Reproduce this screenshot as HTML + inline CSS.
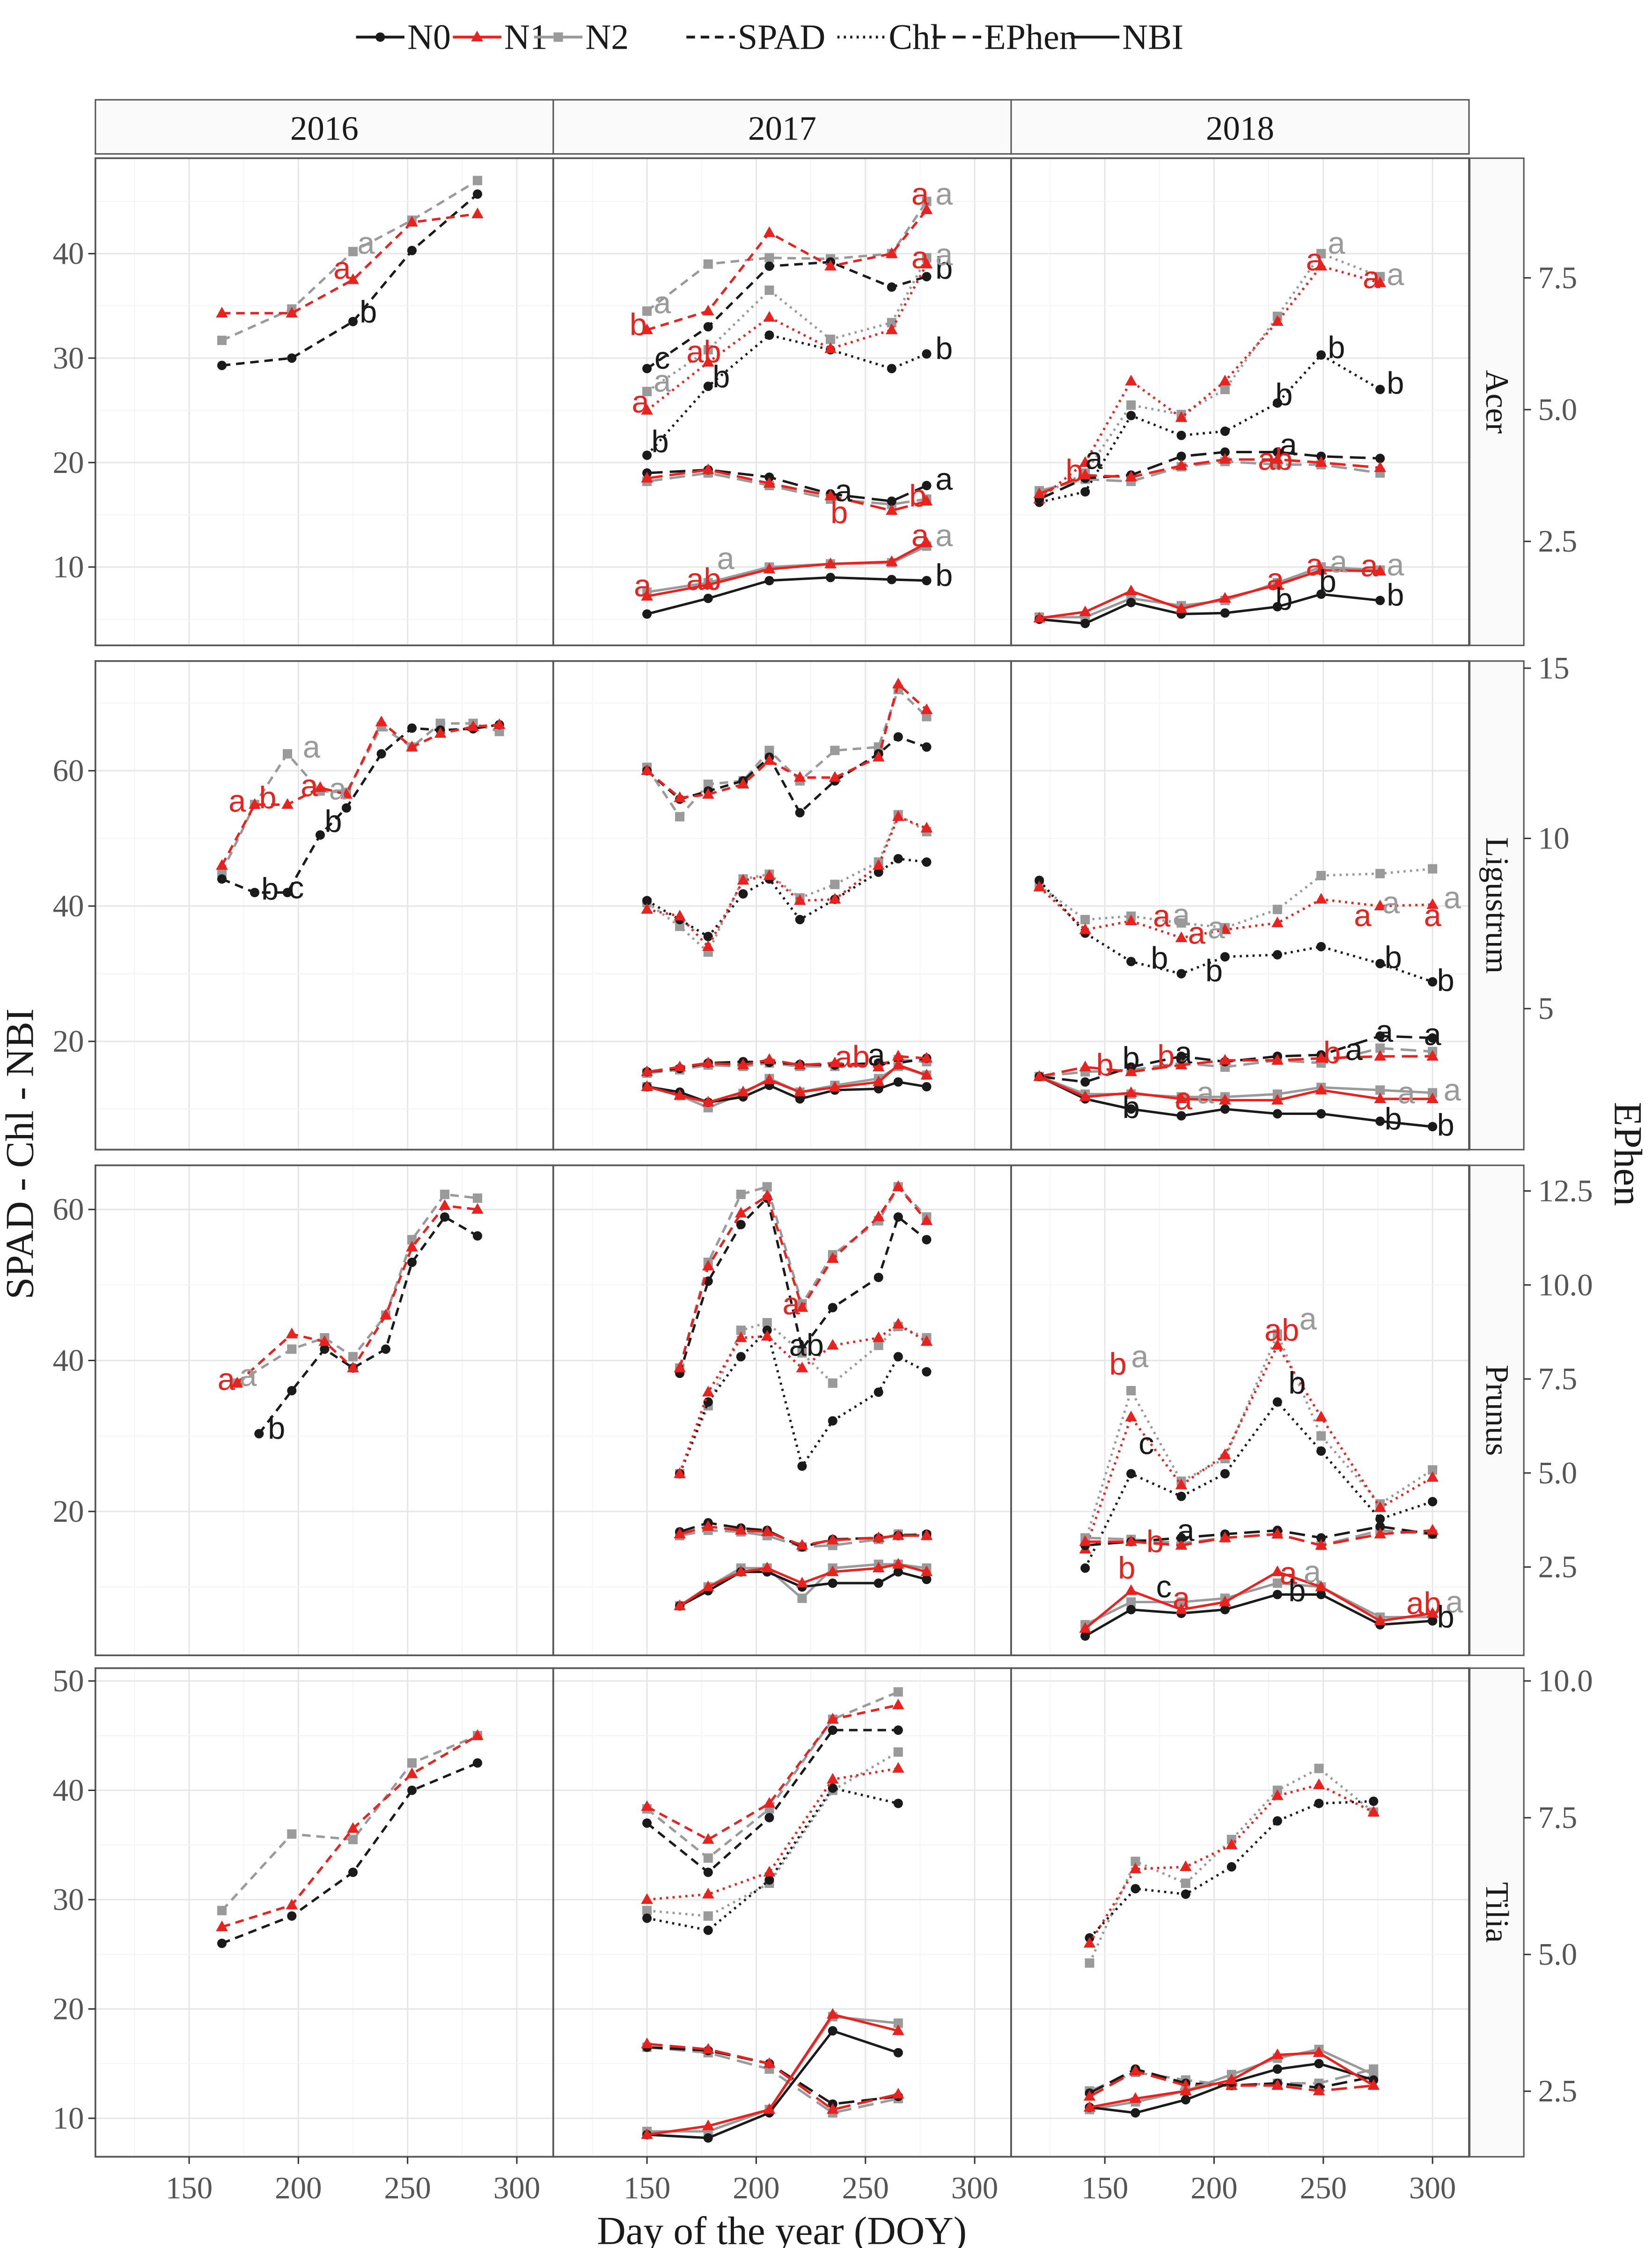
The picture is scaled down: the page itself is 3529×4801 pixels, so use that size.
<!DOCTYPE html>
<html><head><meta charset="utf-8"><style>
html,body{margin:0;padding:0;background:#fff;}
svg{display:block;font-family:"Liberation Serif",serif;}
</style></head><body>
<svg id="chart" xmlns="http://www.w3.org/2000/svg" width="3529" height="4801" viewBox="0 0 1160 1578"></svg>
<script>
// ---------- DATA (values on left SPAD-Chl-NBI scale) ----------
const species=["Acer","Ligustrum","Prunus","Tilia"];
const years=["2016","2017","2018"];
const xTicks=[150,200,250,300];
const leftTicksAcer=[10,20,30,40];
const leftTicksLig=[20,40,60];
const leftTicksPru=[20,40,60];
const leftTicksTil=[10,20,30,40,50];
const rightTicksAcer=[2.5,5.0,7.5];
const rightTicksLig=[5,10,15];
const rightTicksPru=[2.5,5.0,7.5,10.0,12.5];
const rightTicksTil=[2.5,5.0,7.5,10.0];

const doyAcer16=[165,197,225,252,282];
const acer16_spad_n0=[29.3,30,33.5,40.3,45.7];
const acer16_spad_n1=[34.3,34.3,37.5,43,43.8];
const acer16_spad_n2=[31.7,34.7,40.2,43.2,47];
const doyAcer17=[150,178,206,234,262,278];
const acer17_spad_n0=[29,33,38.8,39.2,36.8,37.8];
const acer17_spad_n1=[32.7,34.5,42,38.8,40,44.2];
const acer17_spad_n2=[34.5,39,39.6,39.5,40,45];
const acer17_chl_n0=[20.7,27.3,32.2,30.8,29,30.4];
const acer17_chl_n1=[25,29.6,33.9,30.9,32.7,39];
const acer17_chl_n2=[26.8,30.8,36.5,31.8,33.4,39.6];
const acer17_eph_n0=[19,19.3,18.6,17,16.3,17.8];
const acer17_eph_n1=[18.5,19.3,18,16.8,15.4,16.3];
const acer17_eph_n2=[18.2,19,17.8,16.5,16,16.5];
const acer17_nbi_n0=[5.5,7,8.7,9,8.8,8.7];
const acer17_nbi_n1=[7.2,8.3,9.8,10.3,10.5,12.3];
const acer17_nbi_n2=[7.6,8.5,10,10.3,10.4,12];
const doyAcer18=[120,141,162,185,205,229,249,276];
const acer18_chl_n0=[16.2,17.2,24.5,22.6,23,25.7,30.3,27];
const acer18_chl_n1=[16.5,20,27.8,24.3,27.8,33.5,38.8,37.2];
const acer18_chl_n2=[16.8,19,25.5,24.6,27,34,40,37.8];
const acer18_eph_n0=[16.5,18.5,18.8,20.6,21,21,20.6,20.4];
const acer18_eph_n1=[17,18.8,18.6,19.7,20.3,20.3,20,19.5];
const acer18_eph_n2=[17.3,18.4,18.2,19.6,20.1,19.8,19.8,19];
const acer18_nbi_n0=[5,4.6,6.6,5.5,5.6,6.2,7.4,6.8];
const acer18_nbi_n1=[5.1,5.7,7.7,6,7,8.3,9.7,9.6];
const acer18_nbi_n2=[5.2,5.2,7,6.3,6.8,8.5,10,9.7];

const doyLig16=[165,180,195,210,222,238,252,265,280,292];
const lig16_spad_n0=[44,42,42,50.5,54.5,62.5,66.3,66,66.2,66.8];
const lig16_spad_n1=[46,55,55,57.5,56.5,67.2,63.5,65.5,66.5,66.8];
const lig16_spad_n2=[45,55,62.5,57,56.8,66.5,63.5,67,67,65.8];
const doyLig17=[150,165,178,194,206,220,236,256,265,278];
const lig17_spad_n0=[60,55.8,57,58.5,62,53.8,58.5,62.5,65,63.5];
const lig17_spad_n1=[60,56,56.5,58,61.5,59,59,62,72.8,69];
const lig17_spad_n2=[60.5,53.2,58,58.5,63,58.5,63,63.5,72,68];
const lig17_chl_n0=[40.8,38,35.5,41.8,44,38,41,45,47,46.5];
const lig17_chl_n1=[39.5,38.5,34,43.8,44.5,40.8,41,46,53.2,51.5];
const lig17_chl_n2=[40.5,37,33.2,44,44.7,41.2,43.2,46.5,53.5,51];
const lig17_eph_n0=[15.5,16,16.8,17,16.9,16.6,16.5,16.8,16.8,17.5];
const lig17_eph_n1=[15.5,16.2,16.8,16.5,17.3,16.5,16.8,16.2,17.8,17.5];
const lig17_eph_n2=[15.3,15.8,16.5,16.3,16.8,16.3,16.3,16.6,17.3,17];
const lig17_nbi_n0=[13.3,12.5,11,11.8,13.5,11.5,12.8,13,14,13.3];
const lig17_nbi_n1=[13.3,12,11,12.5,14.3,12.5,13.2,14,16.5,15];
const lig17_nbi_n2=[13.3,12,10.2,12.3,14.5,12.5,13.5,14.5,16.3,15];
const doyLig18=[120,141,162,185,205,229,249,276,300];
const lig18_chl_n0=[43.8,36,31.8,30,32.5,32.8,34,31.5,28.8];
const lig18_chl_n1=[42.8,36.5,37.8,35.3,36.5,37.5,41,40,40.2];
const lig18_chl_n2=[43,38,38.5,37.5,36.8,39.5,44.5,44.8,45.5];
const lig18_eph_n0=[14.8,14,16.2,17.8,17,17.8,18,20.8,20.5];
const lig18_eph_n1=[14.8,16.2,15.5,16.5,17.2,17.2,17.5,17.8,17.8];
const lig18_eph_n2=[14.8,15.5,15.8,16.8,16.2,17.2,16.8,19,18.5];
const lig18_nbi_n0=[14.8,11.5,10,9,10,9.3,9.3,8.2,7.4];
const lig18_nbi_n1=[14.8,11.8,12.4,11.5,11.3,11.3,12.8,11.5,11.5];
const lig18_nbi_n2=[14.8,12.2,12.2,11.8,11.8,12.2,13.2,12.8,12.4];

const doyPru16a=[182,197,212,225,240,252,267,282];
const doyPru16b=[172,197,212,225,240,252,267,282];
const pru16_spad_n0=[30.3,36,41.5,39,41.5,53,59,56.5];
const pru16_spad_n1=[37,43.5,42.5,39,46,55,60.5,60];
const pru16_spad_n2=[37,41.5,43,40.5,46,56,62,61.5];
const doyPru17=[165,178,193,205,221,235,256,265,278];
const pru17_spad_n0=[38.3,50.5,58,61.5,41.5,47,51,59,56];
const pru17_spad_n1=[39,52.5,59.5,61.8,47,53.5,59,63,58.5];
const pru17_spad_n2=[39,53,62,63,47.5,54,58.5,63,59];
const pru17_chl_n0=[25,34.5,40.5,44,26,32,35.8,40.5,38.5];
const pru17_chl_n1=[25,35.8,43,43.2,39,42,43,44.8,42.5];
const pru17_chl_n2=[25,34,44,45,41,37,42,44.5,43];
const pru17_eph_n0=[17.3,18.5,17.8,17.5,15.3,16.3,16.5,16.8,17];
const pru17_eph_n1=[17,18,17.5,17.3,15.5,16.2,16.5,16.8,16.8];
const pru17_eph_n2=[16.8,17.5,17.3,16.8,15.3,15.5,16.3,17,16.8];
const pru17_nbi_n0=[7.5,9.5,12,12,10,10.5,10.5,12,11];
const pru17_nbi_n1=[7.5,10,12,12.5,10.5,12,12.5,13,12];
const pru17_nbi_n2=[7.5,10,12.5,12.5,8.5,12.5,13,13,12.5];
const doyPru18=[141,162,185,205,229,249,276,300];
const pru18_chl_n0=[12.5,25,22,25,34.5,28,19,21.3];
const pru18_chl_n1=[15,32.5,23.5,27.5,42,32.5,20.5,24.5];
const pru18_chl_n2=[16,36,24,27,43.5,30,21,25.5];
const pru18_eph_n0=[15.5,16,16.5,17,17.5,16.5,18,17];
const pru18_eph_n1=[16,16,15.5,16.5,17,15.5,17,17.5];
const pru18_eph_n2=[16.5,16.3,15.8,16.5,17,15.5,17.5,17];
const pru18_nbi_n0=[3.5,7,6.5,7,9,9,5,5.5];
const pru18_nbi_n1=[4.5,9.5,7,8,12,10,5.5,6.5];
const pru18_nbi_n2=[5,8,8,8.5,10.5,10,6,6];

const doyTil16=[165,197,225,252,282];
const til16_spad_n0=[26,28.5,32.5,40,42.5];
const til16_spad_n1=[27.5,29.5,36.5,41.5,45];
const til16_spad_n2=[29,36,35.5,42.5,45];
const doyTil17=[150,178,206,235,265];
const til17_spad_n0=[37,32.5,37.5,45.5,45.5];
const til17_spad_n1=[38.5,35.5,38.8,46.5,47.8];
const til17_spad_n2=[38.3,33.8,38.3,46.5,49];
const til17_chl_n0=[28.3,27.2,31.8,40.2,38.8];
const til17_chl_n1=[30,30.5,32.5,41,42];
const til17_chl_n2=[29,28.5,31.5,40,43.5];
const til17_eph_n0=[16.5,16.2,15,11.3,12];
const til17_eph_n1=[16.8,16.3,15,10.8,12.2];
const til17_eph_n2=[16.5,16,14.5,10.5,11.8];
const til17_nbi_n0=[8.5,8.2,10.5,18,16];
const til17_nbi_n1=[8.5,9.3,10.8,19.5,18];
const til17_nbi_n2=[8.8,8.8,10.8,19.3,18.7];
const doyTil18=[143,164,187,208,229,248,273];
const til18_chl_n0=[26.5,31,30.5,33,37.2,38.8,39];
const til18_chl_n1=[26,32.8,33,35,39.5,40.5,38];
const til18_chl_n2=[24.2,33.5,31.5,35.5,40,42,38];
const til18_eph_n0=[12.3,14.5,13.2,13,13.2,12.8,13.8];
const til18_eph_n1=[12,14.3,13,13,13,12.5,13];
const til18_eph_n2=[12.5,14.2,13.5,13,13.2,13.2,14.5];
const til18_nbi_n0=[11,10.5,11.7,13.3,14.5,15,13.5];
const til18_nbi_n1=[11,11.8,12.5,13.5,15.8,16,13];
const til18_nbi_n2=[10.8,11.5,12.5,14,15.5,16.3,14];

const seriesList=[
[0,0,"spad",2,doyAcer16,acer16_spad_n2],[0,0,"spad",0,doyAcer16,acer16_spad_n0],[0,0,"spad",1,doyAcer16,acer16_spad_n1],
[0,1,"spad",2,doyAcer17,acer17_spad_n2],[0,1,"spad",0,doyAcer17,acer17_spad_n0],[0,1,"spad",1,doyAcer17,acer17_spad_n1],
[0,1,"chl",2,doyAcer17,acer17_chl_n2],[0,1,"chl",0,doyAcer17,acer17_chl_n0],[0,1,"chl",1,doyAcer17,acer17_chl_n1],
[0,1,"eph",2,doyAcer17,acer17_eph_n2],[0,1,"eph",0,doyAcer17,acer17_eph_n0],[0,1,"eph",1,doyAcer17,acer17_eph_n1],
[0,1,"nbi",2,doyAcer17,acer17_nbi_n2],[0,1,"nbi",0,doyAcer17,acer17_nbi_n0],[0,1,"nbi",1,doyAcer17,acer17_nbi_n1],
[0,2,"chl",2,doyAcer18,acer18_chl_n2],[0,2,"chl",0,doyAcer18,acer18_chl_n0],[0,2,"chl",1,doyAcer18,acer18_chl_n1],
[0,2,"eph",2,doyAcer18,acer18_eph_n2],[0,2,"eph",0,doyAcer18,acer18_eph_n0],[0,2,"eph",1,doyAcer18,acer18_eph_n1],
[0,2,"nbi",2,doyAcer18,acer18_nbi_n2],[0,2,"nbi",0,doyAcer18,acer18_nbi_n0],[0,2,"nbi",1,doyAcer18,acer18_nbi_n1],
[1,0,"spad",2,doyLig16,lig16_spad_n2],[1,0,"spad",0,doyLig16,lig16_spad_n0],[1,0,"spad",1,doyLig16,lig16_spad_n1],
[1,1,"spad",2,doyLig17,lig17_spad_n2],[1,1,"spad",0,doyLig17,lig17_spad_n0],[1,1,"spad",1,doyLig17,lig17_spad_n1],
[1,1,"chl",2,doyLig17,lig17_chl_n2],[1,1,"chl",0,doyLig17,lig17_chl_n0],[1,1,"chl",1,doyLig17,lig17_chl_n1],
[1,1,"eph",2,doyLig17,lig17_eph_n2],[1,1,"eph",0,doyLig17,lig17_eph_n0],[1,1,"eph",1,doyLig17,lig17_eph_n1],
[1,1,"nbi",2,doyLig17,lig17_nbi_n2],[1,1,"nbi",0,doyLig17,lig17_nbi_n0],[1,1,"nbi",1,doyLig17,lig17_nbi_n1],
[1,2,"chl",2,doyLig18,lig18_chl_n2],[1,2,"chl",0,doyLig18,lig18_chl_n0],[1,2,"chl",1,doyLig18,lig18_chl_n1],
[1,2,"eph",2,doyLig18,lig18_eph_n2],[1,2,"eph",0,doyLig18,lig18_eph_n0],[1,2,"eph",1,doyLig18,lig18_eph_n1],
[1,2,"nbi",2,doyLig18,lig18_nbi_n2],[1,2,"nbi",0,doyLig18,lig18_nbi_n0],[1,2,"nbi",1,doyLig18,lig18_nbi_n1],
[2,0,"spad",2,doyPru16b,pru16_spad_n2],[2,0,"spad",0,doyPru16a,pru16_spad_n0],[2,0,"spad",1,doyPru16b,pru16_spad_n1],
[2,1,"spad",2,doyPru17,pru17_spad_n2],[2,1,"spad",0,doyPru17,pru17_spad_n0],[2,1,"spad",1,doyPru17,pru17_spad_n1],
[2,1,"chl",2,doyPru17,pru17_chl_n2],[2,1,"chl",0,doyPru17,pru17_chl_n0],[2,1,"chl",1,doyPru17,pru17_chl_n1],
[2,1,"eph",2,doyPru17,pru17_eph_n2],[2,1,"eph",0,doyPru17,pru17_eph_n0],[2,1,"eph",1,doyPru17,pru17_eph_n1],
[2,1,"nbi",2,doyPru17,pru17_nbi_n2],[2,1,"nbi",0,doyPru17,pru17_nbi_n0],[2,1,"nbi",1,doyPru17,pru17_nbi_n1],
[2,2,"chl",2,doyPru18,pru18_chl_n2],[2,2,"chl",0,doyPru18,pru18_chl_n0],[2,2,"chl",1,doyPru18,pru18_chl_n1],
[2,2,"eph",2,doyPru18,pru18_eph_n2],[2,2,"eph",0,doyPru18,pru18_eph_n0],[2,2,"eph",1,doyPru18,pru18_eph_n1],
[2,2,"nbi",2,doyPru18,pru18_nbi_n2],[2,2,"nbi",0,doyPru18,pru18_nbi_n0],[2,2,"nbi",1,doyPru18,pru18_nbi_n1],
[3,0,"spad",2,doyTil16,til16_spad_n2],[3,0,"spad",0,doyTil16,til16_spad_n0],[3,0,"spad",1,doyTil16,til16_spad_n1],
[3,1,"spad",2,doyTil17,til17_spad_n2],[3,1,"spad",0,doyTil17,til17_spad_n0],[3,1,"spad",1,doyTil17,til17_spad_n1],
[3,1,"chl",2,doyTil17,til17_chl_n2],[3,1,"chl",0,doyTil17,til17_chl_n0],[3,1,"chl",1,doyTil17,til17_chl_n1],
[3,1,"eph",2,doyTil17,til17_eph_n2],[3,1,"eph",0,doyTil17,til17_eph_n0],[3,1,"eph",1,doyTil17,til17_eph_n1],
[3,1,"nbi",2,doyTil17,til17_nbi_n2],[3,1,"nbi",0,doyTil17,til17_nbi_n0],[3,1,"nbi",1,doyTil17,til17_nbi_n1],
[3,2,"chl",2,doyTil18,til18_chl_n2],[3,2,"chl",0,doyTil18,til18_chl_n0],[3,2,"chl",1,doyTil18,til18_chl_n1],
[3,2,"eph",2,doyTil18,til18_eph_n2],[3,2,"eph",0,doyTil18,til18_eph_n0],[3,2,"eph",1,doyTil18,til18_eph_n1],
[3,2,"nbi",2,doyTil18,til18_nbi_n2],[3,2,"nbi",0,doyTil18,til18_nbi_n0],[3,2,"nbi",1,doyTil18,til18_nbi_n1]
];

const letters=[
[0,0,220,38.6,"a",1],[0,0,231,41,"a",2],[0,0,232,34.4,"b",0],
[0,1,146,33.2,"b",1],[0,1,157,35.3,"a",2],[0,1,157,30,"c",0],[0,1,156,22,"b",0],[0,1,147,25.8,"a",1],[0,1,157,27.8,"a",2],
[0,1,176,30.6,"ab",1],[0,1,184,28.2,"b",0],[0,1,148,8.2,"a",1],[0,1,176,8.8,"ab",1],[0,1,186,10.8,"a",2],
[0,1,275,45.7,"a",1],[0,1,286,45.7,"a",2],[0,1,286,38.6,"b",0],[0,1,286,30.9,"b",0],[0,1,275,39.6,"a",1],[0,1,286,39.9,"a",2],
[0,1,240,17.3,"a",0],[0,1,238,15.2,"b",1],[0,1,286,18.4,"a",0],[0,1,274,16.8,"b",1],[0,1,275,13,"a",1],[0,1,286,13,"a",2],[0,1,286,9.2,"b",0],
[0,2,246,39.4,"a",1],[0,2,256,41,"a",2],[0,2,256,31,"b",0],[0,2,272,37.7,"a",1],[0,2,283,38,"a",2],[0,2,283,27.6,"b",0],[0,2,232,26.5,"b",0],
[0,2,234,21.7,"a",0],[0,2,228,20.3,"ab",1],[0,2,145,20.4,"a",0],[0,2,136,19.2,"b",1],
[0,2,228,8.8,"a",1],[0,2,246,10.2,"a",1],[0,2,257,10.5,"a",2],[0,2,271,10.1,"a",1],[0,2,283,10.2,"a",2],[0,2,232,6.9,"b",0],[0,2,252,8.6,"b",0],[0,2,283,7.3,"b",0],
[1,0,172,55.5,"a",1],[1,0,186,56,"b",1],[1,0,206,63.5,"a",2],[1,0,205,57.8,"a",1],[1,0,218,57.3,"a",2],[1,0,187,42.5,"b",0],[1,0,199,42.7,"c",0],[1,0,216,52.5,"b",0],
[1,1,244,17.7,"ab",1],[1,1,255,18,"a",0],
[1,2,176,38.5,"a",1],[1,2,185,38.7,"a",2],[1,2,175,32.3,"b",0],[1,2,192,36,"a",1],[1,2,201,36.8,"a",2],[1,2,200,30.4,"b",0],
[1,2,268,38.6,"a",1],[1,2,281,40.5,"a",2],[1,2,300,38.6,"a",1],[1,2,309,41.2,"a",2],[1,2,282,32.4,"b",0],[1,2,306,29,"b",0],
[1,2,150,16.5,"b",1],[1,2,162,17.5,"b",0],[1,2,186,18.3,"a",0],[1,2,178,17.8,"b",1],[1,2,254,18.3,"b",1],[1,2,264,18.8,"a",0],[1,2,278,21.5,"a",0],[1,2,300,21,"a",0],
[1,2,162,10.2,"b",0],[1,2,186,11.5,"a",1],[1,2,196,12.4,"a",2],[1,2,282,8.5,"b",0],[1,2,306,7.6,"b",0],[1,2,288,12.4,"a",2],[1,2,309,12.8,"a",2],
[2,0,167,37.5,"a",1],[2,0,177,38,"a",2],[2,0,190,31,"b",0],
[2,1,216,47.5,"a",1],[2,1,223,42,"ab",0],
[2,2,156,39.5,"b",1],[2,2,166,40.5,"a",2],[2,2,169,29,"c",0],[2,2,231,44,"ab",1],[2,2,243,45.5,"a",2],[2,2,238,37,"b",0],
[2,2,187,17.5,"a",0],[2,2,173,16,"b",1],[2,2,160,12.5,"b",1],[2,2,177,10,"c",0],[2,2,185,8.5,"a",1],[2,2,234,11.8,"a",1],[2,2,245,12,"a",2],[2,2,238,9.5,"b",0],[2,2,296,7.8,"ab",1],[2,2,310,8,"a",2],[2,2,306,6,"b",0]
];

// ---------- LAYOUT ----------
const NS="http://www.w3.org/2000/svg";
const svg=document.getElementById("chart");
const colX=[67,388.5,710];
const panelW=321.5;
const rowY=[[111,453],[464,807],[818,1162],[1171,1514]];
const leftMap=[{v0:10,y0:398,k:7.333},{v0:20,y0:731,k:4.75},{v0:20,y0:1061,k:5.3},{v0:10,y0:1487,k:7.675}];
const rightMap=[{v0:2.5,y0:380,k:37},{v0:5,y0:708,k:23.9},{v0:2.5,y0:1100,k:26.4},{v0:2.5,y0:1468,k:38.4}];
const leftTicks=[leftTicksAcer,leftTicksLig,leftTicksPru,leftTicksTil];
const rightTicks=[rightTicksAcer,rightTicksLig,rightTicksPru,rightTicksTil];
const colors=["#1a1a1a","#e8231f","#9a9a9a"];
const dashes={spad:"6,4",chl:"1.5,3",eph:"11,5",nbi:""};
function xs(c,d){return colX[c]+65.8+(d-150)*1.534;}
function ys(r,v){const m=leftMap[r];return m.y0-(v-m.v0)*m.k;}
function yr(r,v){const m=rightMap[r];return m.y0-(v-m.v0)*m.k;}
function el(tag,attrs,parent){const e=document.createElementNS(NS,tag);for(const k in attrs)e.setAttribute(k,attrs[k]);(parent||svg).appendChild(e);return e;}
function txt(s,attrs,parent){const e=el("text",attrs,parent);e.textContent=s;return e;}

// panels + grid
for(let r=0;r<4;r++){
  for(let c=0;c<3;c++){
    const x0=colX[c],y0=rowY[r][0],y1=rowY[r][1];
    const g=el("g",{});
    
    
    el("rect",{x:x0,y:y0,width:panelW,height:y1-y0,fill:"#fff"},g);
    // minor x grid
    for(let d=125;d<=325;d+=25){const x=xs(c,d);if(x>x0&&x<x0+panelW){el("line",{x1:x,x2:x,y1:y0,y2:y1,stroke:d%50===0?"#e6e6e6":"#f3f3f3","stroke-width":d%50===0?1:0.6},g);}}
    // y grid
    const lt=leftTicks[r];const step=lt[1]-lt[0];
    for(let v=lt[0]-step*2;v<=lt[lt.length-1]+step*2;v+=step/2){const y=ys(r,v);if(y>y0&&y<y1){const maj=Math.abs(((v-lt[0])/step)%1)<1e-6;el("line",{x1:x0,x2:x0+panelW,y1:y,y2:y,stroke:maj?"#e6e6e6":"#f3f3f3","stroke-width":maj?1:0.6},g);}}
    el("rect",{x:x0,y:y0,width:panelW,height:y1-y0,fill:"none",stroke:"#555","stroke-width":1.2},g);
  }
  // right strip
  const sg=el("g",{});
  
  
  el("rect",{x:1032,y:rowY[r][0],width:38,height:rowY[r][1]-rowY[r][0],fill:"#fafafa",stroke:"#555","stroke-width":1},sg);
  const cy=(rowY[r][0]+rowY[r][1])/2;
  txt(species[r],{x:1051,y:cy,"font-size":23,"text-anchor":"middle","dominant-baseline":"central",transform:"rotate(90 1051 "+cy+")",fill:"#1a1a1a"},sg);
  // left ticks
  for(const v of leftTicks[r]){const y=ys(r,v);
    el("line",{x1:62,x2:67,y1:y,y2:y,stroke:"#333","stroke-width":1});
    const t=txt(String(v),{x:59,y:y,"font-size":22,"text-anchor":"end","dominant-baseline":"central",fill:"#555"});
    
    
  }
  // right ticks
  for(const v of rightTicks[r]){const y=yr(r,v);
    el("line",{x1:1070,x2:1075,y1:y,y2:y,stroke:"#333","stroke-width":1});
    const lab=(r===1)?String(v):v.toFixed(1);
    const t=txt(lab,{x:1080,y:y,"font-size":22,"text-anchor":"start","dominant-baseline":"central",fill:"#555"});
    
    
  }
}
// top strips
for(let c=0;c<3;c++){
  const g=el("g",{});
  
  
  el("rect",{x:colX[c],y:70,width:panelW,height:38,fill:"#fafafa",stroke:"#555","stroke-width":1},g);
  txt(years[c],{x:colX[c]+panelW/2,y:90,"font-size":24,"text-anchor":"middle","dominant-baseline":"central",fill:"#1a1a1a"},g);
  for(const d of xTicks){const x=xs(c,d);
    el("line",{x1:x,x2:x,y1:1514,y2:1519,stroke:"#333","stroke-width":1});
    const t=txt(String(d),{x:x,y:1536,"font-size":22,"text-anchor":"middle","dominant-baseline":"central",fill:"#555"});
    
    
  }
}
// axis titles
const xt=txt("Day of the year (DOY)",{x:549,y:1566,"font-size":28,"text-anchor":"middle","dominant-baseline":"central",fill:"#1a1a1a"});


const yt=txt("SPAD - Chl - NBI",{x:14,y:810,"font-size":28,"text-anchor":"middle","dominant-baseline":"central",transform:"rotate(-90 14 810)",fill:"#1a1a1a"});


const y2t=txt("EPhen",{x:1143,y:810,"font-size":28,"text-anchor":"middle","dominant-baseline":"central",transform:"rotate(90 1143 810)",fill:"#1a1a1a"});



// markers
function marker(t,x,y,g){
  const col=colors[t];
  if(t===0)return el("circle",{cx:x,cy:y,r:3.3,fill:col},g);
  if(t===1)return el("polygon",{points:(x)+","+(y-4.5)+" "+(x-4.2)+","+(y+3)+" "+(x+4.2)+","+(y+3),fill:col},g);
  return el("rect",{x:x-3.3,y:y-3.3,width:6.6,height:6.6,fill:col},g);
}
// series
const trtNames=["n0","n1","n2"];
for(const s of seriesList){
  const [r,c,m,t,doy,vals]=s;
  const g=el("g",{});
  
  
  const pts=doy.map((d,i)=>xs(c,d).toFixed(1)+","+ys(r,vals[i]).toFixed(1)).join(" ");
  const a={points:pts,fill:"none",stroke:colors[t],"stroke-width":1.7};
  if(dashes[m])a["stroke-dasharray"]=dashes[m];
  el("polyline",a,g);
  doy.forEach((d,i)=>marker(t,xs(c,d),ys(r,vals[i]),g));
}
// letters
for(const L of letters){
  const [r,c,d,v,s,t]=L;
  const e=txt(s,{x:xs(c,d),y:ys(r,v),"font-size":22,"text-anchor":"middle","dominant-baseline":"central",fill:colors[t],"font-family":"Liberation Sans, sans-serif"});
  
  
}
// legend
const legendItems=[
 {label:"N0",x:250,t:0,dash:""},{label:"N1",x:318,t:1,dash:""},{label:"N2",x:375,t:2,dash:""},
 {label:"SPAD",x:482,t:-1,dash:"6,4"},{label:"Chl",x:588,t:-1,dash:"1.5,3"},{label:"EPhen",x:655,t:-1,dash:"9,5"},{label:"NBI",x:752,t:-1,dash:""}
];
for(const it of legendItems){
  const g=el("g",{});
  
  
  const col=it.t>=0?colors[it.t]:"#1a1a1a";
  const a={x1:it.x,x2:it.x+34,y1:26,y2:26,stroke:col,"stroke-width":2};
  if(it.dash)a["stroke-dasharray"]=it.dash;
  el("line",a,g);
  if(it.t>=0)marker(it.t,it.x+17,26,g);
  txt(it.label,{x:it.x+36,y:26,"font-size":25,"dominant-baseline":"central",fill:"#1a1a1a"},g);
}
</script>
</body></html>
